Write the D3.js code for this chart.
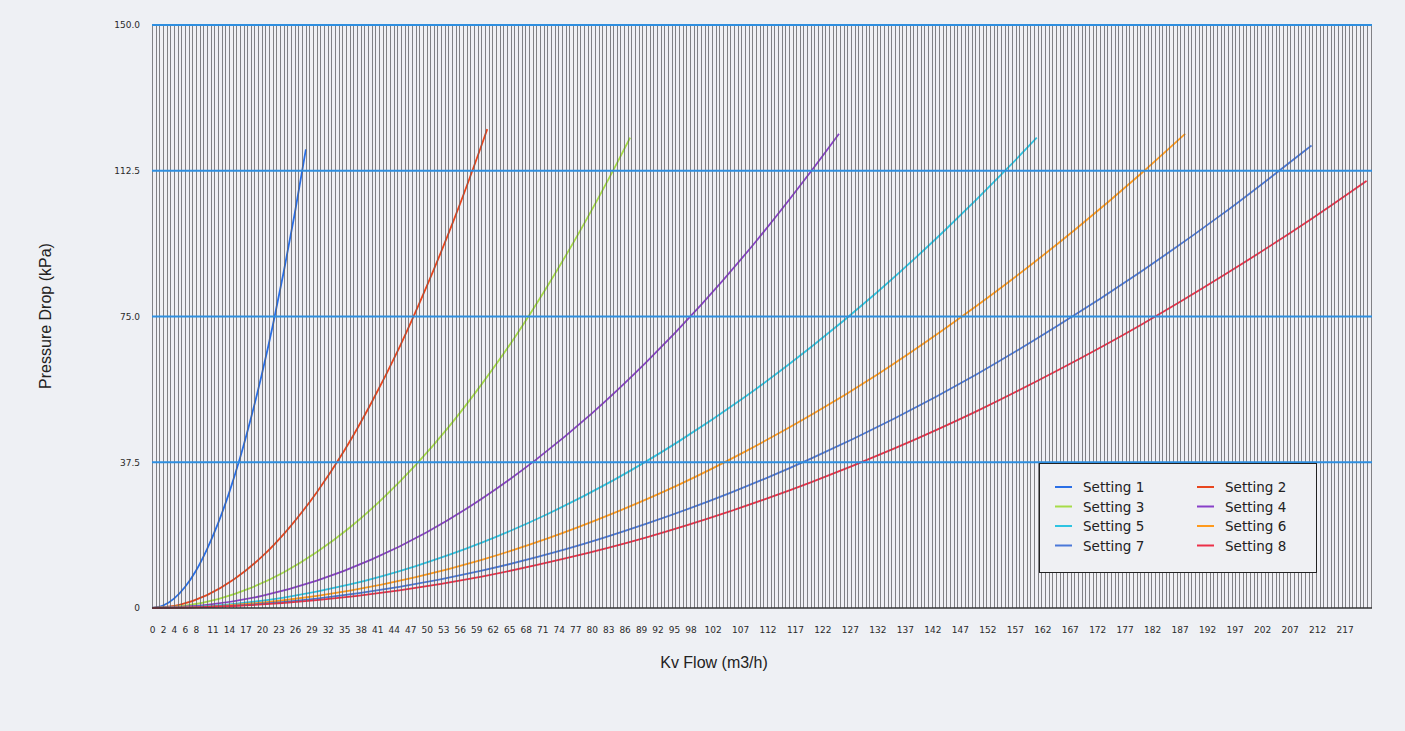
<!DOCTYPE html>
<html>
<head>
<meta charset="utf-8">
<script src="https://cdn.jsdelivr.net/npm/d3@7/dist/d3.min.js"></script>
<style>
  html, body { margin: 0; padding: 0; background: #eef0f4; }
  svg { display: block; }
</style>
</head>
<body>
<svg id="chart" width="1405" height="731"></svg>
<script>
// ---------- data ----------
const seriesNames = ["Setting 1","Setting 2","Setting 3","Setting 4","Setting 5","Setting 6","Setting 7","Setting 8"];
const seriesColors = ["#2a6fe6","#e8461e","#a6dc48","#8840c8","#2ec4e2","#ff9a1c","#4a78d8","#ec3048"];

const s1x = [0,2,4,6,8,10,12,14,16,18,20,22,24,26,28];
const s1y = [0,0.6,2.4,5.4,9.6,15.1,21.7,29.5,38.5,48.8,60.2,72.8,86.7,101.7,118.0];

const s2x = [0,5,10,15,20,25,30,35,40,45,50,55,60,61];
const s2y = [0,0.83,3.31,7.45,13.2,20.7,29.8,40.5,53.0,67.0,82.8,100.1,119.2,123.2];

const s3x = [0,6,12,18,24,30,36,42,48,54,60,66,72,78,84,87];
const s3y = [0,0.58,2.30,5.18,9.21,14.4,20.7,28.2,36.8,46.6,57.6,69.6,82.9,97.3,112.8,121.0];

const s4x = [0,10,20,30,40,50,60,70,80,90,100,110,120,125];
const s4y = [0,0.78,3.12,7.03,12.5,19.5,28.1,38.3,50.0,63.3,78.1,94.5,112.5,122.0];

const s5x = [0,12,24,36,48,60,72,84,96,108,120,132,144,156,161];
const s5y = [0,0.67,2.69,6.05,10.8,16.8,24.2,32.9,43.0,54.4,67.2,81.3,96.8,113.6,121.0];

const s6x = [0,12,24,36,48,60,72,84,96,108,120,132,144,156,168,180,188];
const s6y = [0,0.50,1.99,4.47,7.95,12.4,17.9,24.4,31.8,40.3,49.7,60.1,71.6,84.0,97.4,111.8,122.0];

const s7x = [0,15,30,45,60,75,90,105,120,135,150,165,180,195,210,211];
const s7y = [0,0.60,2.41,5.41,9.62,15.0,21.7,29.5,38.5,48.7,60.1,72.8,86.6,101.6,117.9,119.0];

const s8x = [0,15,30,45,60,75,90,105,120,135,150,165,180,195,210,221];
const s8y = [0,0.51,2.03,4.56,8.10,12.7,18.2,24.8,32.4,41.0,50.6,61.3,72.9,85.6,99.2,109.9];

const xTickLabels = [0,2,4,6,8,11,14,17,20,23,26,29,32,35,38,41,44,47,50,53,56,59,62,65,68,71,74,77,80,83,86,89,92,95,98,102,107,112,117,122,127,132,137,142,147,152,157,162,167,172,177,182,187,192,197,202,207,212,217];
const yTickValues = [0,37.5,75,112.5,150];
const yTickLabels = ["0","37.5","75.0","112.5","150.0"];

const xMax = 222;
const yMax = 150;

// ---------- layout ----------
const svg = d3.select("#chart");
const pL = 152, pR = 1372, pT = 25, pB = 608;

const x = d3.scaleLinear().domain([0, xMax]).range([pL, pR]);
const y = d3.scaleLinear().domain([0, yMax]).range([pB, pT]);

// plot background
svg.append("rect").attr("x", pL).attr("y", pT).attr("width", pR-pL).attr("height", pB-pT)
  .attr("fill", "#f0f0f4");

const seriesX = [s1x,s2x,s3x,s4x,s5x,s6x,s7x,s8x];
const seriesY = [s1y,s2y,s3y,s4y,s5y,s6y,s7y,s8y];

// curves
const line = d3.line().x(d => x(d[0])).y(d => y(d[1])).curve(d3.curveMonotoneX);
const gLines = svg.append("g");
seriesNames.forEach((name, i) => {
  const pts = seriesX[i].map((v, k) => [v, seriesY[i][k]]);
  gLines.append("path").datum(pts).attr("d", line)
    .attr("fill", "none").attr("stroke", seriesColors[i]).attr("stroke-width", 1.8);
});

// vertical grid lines (one per category step)
const gridStep = 0.666;
const vLines = d3.range(0, xMax + 0.001, gridStep);
svg.append("g").selectAll("line").data(vLines).join("line")
  .attr("x1", d => Math.round(x(d)) + 0.5).attr("x2", d => Math.round(x(d)) + 0.5)
  .attr("y1", pT).attr("y2", pB)
  .attr("stroke", "#5c5c60").attr("stroke-width", 1).attr("stroke-opacity", 0.75);

// horizontal grid lines
svg.append("g").selectAll("line").data(yTickValues.filter(v => v > 0)).join("line")
  .attr("x1", pL).attr("x2", pR)
  .attr("y1", d => y(d)).attr("y2", d => y(d))
  .attr("stroke", "#2f8fe0").attr("stroke-width", 2);

// base line
svg.append("line").attr("x1", pL).attr("x2", pR).attr("y1", pB).attr("y2", pB)
  .attr("stroke", "#333").attr("stroke-width", 1.5);

// y axis labels
const yAxis = d3.axisLeft(y).tickValues(yTickValues).tickSize(0).tickPadding(0)
  .tickFormat((d, i) => yTickLabels[i]);
const gy = svg.append("g").attr("transform", `translate(${pL - 12},0)`).call(yAxis);
gy.select(".domain").remove();
gy.selectAll("text").attr("font-family", "DejaVu Sans, sans-serif").attr("font-size", 9).attr("fill", "#2a2a2a");

// x axis labels
const xAxis = d3.axisBottom(x).tickValues(xTickLabels).tickSize(0).tickPadding(0).tickFormat(d => d);
const gx = svg.append("g").attr("transform", `translate(0,${pB + 19})`).call(xAxis);
gx.select(".domain").remove();
gx.selectAll("text").attr("font-family", "DejaVu Sans, sans-serif").attr("font-size", 9).attr("fill", "#2a2a2a");

// axis titles
svg.append("text").attr("x", 714).attr("y", 668).attr("text-anchor", "middle")
  .attr("font-family", "Liberation Sans, Arial, sans-serif").attr("font-size", 16).attr("fill", "#222")
  .text("Kv Flow (m3/h)");
svg.append("text").attr("transform", "translate(51,316) rotate(-90)").attr("text-anchor", "middle")
  .attr("font-family", "Liberation Sans, Arial, sans-serif").attr("font-size", 16).attr("fill", "#222")
  .text("Pressure Drop (kPa)");

// legend
const lg = svg.append("g");
lg.append("rect").attr("x", 1039.5).attr("y", 463.5).attr("width", 277).attr("height", 109)
  .attr("fill", "#eff0f3").attr("stroke", "#222").attr("stroke-width", 1);
seriesNames.forEach((name, i) => {
  const col = i % 2, row = Math.floor(i / 2);
  const lx = 1055 + col * 142, ly = 487 + row * 19.5;
  lg.append("line").attr("x1", lx).attr("x2", lx + 17).attr("y1", ly).attr("y2", ly)
    .attr("stroke", seriesColors[i]).attr("stroke-width", 2);
  lg.append("text").attr("x", lx + 28).attr("y", ly + 5)
    .attr("font-family", "DejaVu Sans, sans-serif").attr("font-size", 13.5).attr("fill", "#222")
    .text(name);
});
</script>
</body>
</html>
